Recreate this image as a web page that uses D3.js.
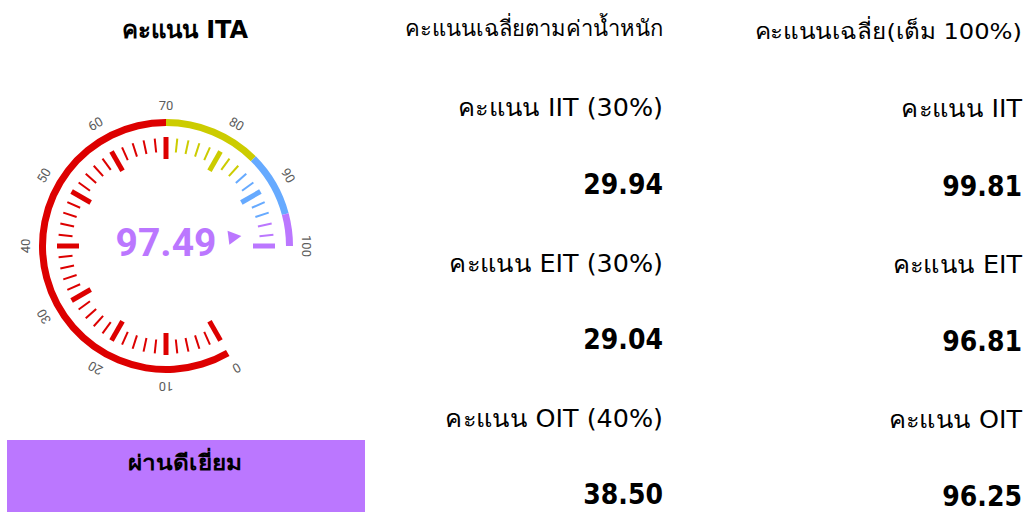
<!DOCTYPE html>
<html>
<head>
<meta charset="utf-8">
<script src="https://cdn.jsdelivr.net/npm/d3@7"></script>
<style>
  body { margin: 0; background: #fff; }
  svg { display: block; font-family: "DejaVu Sans", sans-serif; }
  .gauge-text { font-family: Roboto, "Liberation Sans", Arial, sans-serif; }
  .row-value { font-family: "DejaVu Sans Condensed", "Liberation Sans", sans-serif; }
</style>
</head>
<body>
<div id="chart"></div>
<script>
// gauge data
const gaugeTitle = 'คะแนน ITA';
const gaugeValue = 97.49;
const gaugeStatus = 'ผ่านดีเยี่ยม';
const bandStops = [0, 70, 85, 95, 100];
const bandColors = ['#dd0000', '#cccc00', '#66aaff', '#bb77ff'];
const majorTicks = [0, 10, 20, 30, 40, 50, 60, 70, 80, 90, 100];
const minorTicks = [2, 4, 6, 8, 12, 14, 16, 18, 22, 24, 26, 28, 32, 34, 36, 38, 42, 44, 46, 48,
  52, 54, 56, 58, 62, 64, 66, 68, 72, 74, 76, 78, 82, 84, 86, 88, 92, 94, 96, 98];

// score tables
const weightedHeader = 'คะแนนเฉลี่ยตามค่าน้ำหนัก';
const weightedLabels = ['คะแนน IIT (30%)', 'คะแนน EIT (30%)', 'คะแนน OIT (40%)'];
const weightedValues = [29.94, 29.04, 38.50];
const fullHeader = 'คะแนนเฉลี่ย(เต็ม 100%)';
const fullLabels = ['คะแนน IIT', 'คะแนน EIT', 'คะแนน OIT'];
const fullValues = [99.81, 96.81, 96.25];

const width = 1027, height = 512;
const svg = d3.select('#chart').append('svg')
  .attr('width', width)
  .attr('height', height);

const fmt = d3.format('.2f');

// value -> angle (radians, clockwise from 12 o'clock)
const angle = d3.scaleLinear().domain([0, 100]).range([-210 * Math.PI / 180, 90 * Math.PI / 180]);
const bandColor = d3.scaleThreshold().domain(bandStops.slice(1, -1).map(d => d + 1e-6)).range(bandColors);

const cx = 166, cy = 246;

svg.append('text')
  .attr('x', 185).attr('y', 38)
  .attr('text-anchor', 'middle')
  .attr('font-size', 24).attr('font-weight', 'bold')
  .text(gaugeTitle);

const g = svg.append('g').attr('transform', `translate(${cx},${cy})`);

const arc = d3.arc().innerRadius(120).outerRadius(127);
g.selectAll('.band')
  .data(bandColors)
  .enter().append('path')
  .attr('class', 'band')
  .attr('fill', d => d)
  .attr('d', (d, i) => arc({ startAngle: angle(bandStops[i]), endAngle: angle(bandStops[i + 1]) }));

function tickLine(sel, r0, r1, w) {
  sel.attr('x1', d => r0 * Math.sin(angle(d)))
    .attr('y1', d => -r0 * Math.cos(angle(d)))
    .attr('x2', d => r1 * Math.sin(angle(d)))
    .attr('y2', d => -r1 * Math.cos(angle(d)))
    .attr('stroke', d => bandColor(d))
    .attr('stroke-width', w);
}

g.selectAll('.minor')
  .data(minorTicks)
  .enter().append('line')
  .attr('class', 'minor')
  .call(tickLine, 94, 108, 2);

g.selectAll('.major')
  .data(majorTicks)
  .enter().append('line')
  .attr('class', 'major')
  .call(tickLine, 87, 109, 5);

g.selectAll('.tick-label')
  .data(majorTicks)
  .enter().append('text')
  .attr('class', 'tick-label gauge-text')
  .attr('transform', d => {
    const a = angle(d);
    return `translate(${141 * Math.sin(a)},${-141 * Math.cos(a)}) rotate(${a * 180 / Math.PI})`;
  })
  .attr('text-anchor', 'middle')
  .attr('dy', '0.35em')
  .attr('font-size', 13)
  .attr('fill', '#5c5c5c')
  .text(d => d);

// pointer
const pa = angle(gaugeValue);
const pointer = d3.path();
pointer.moveTo(63 * Math.sin(pa) - 7 * Math.cos(pa), -63 * Math.cos(pa) - 7 * Math.sin(pa));
pointer.lineTo(76 * Math.sin(pa), -76 * Math.cos(pa));
pointer.lineTo(63 * Math.sin(pa) + 7 * Math.cos(pa), -63 * Math.cos(pa) + 7 * Math.sin(pa));
pointer.closePath();
g.append('path')
  .attr('d', pointer.toString())
  .attr('fill', bandColor(gaugeValue));

g.append('text')
  .attr('class', 'gauge-text')
  .attr('x', 0).attr('y', 10)
  .attr('text-anchor', 'middle')
  .attr('font-size', 39).attr('font-weight', 'bold')
  .attr('fill', bandColor(gaugeValue))
  .text(fmt(gaugeValue));

// status box
svg.append('rect')
  .attr('x', 7).attr('y', 440)
  .attr('width', 358).attr('height', 80)
  .attr('fill', bandColor(gaugeValue));
svg.append('text')
  .attr('transform', 'translate(185,470) scale(1.16,1)')
  .attr('text-anchor', 'middle')
  .attr('font-size', 21).attr('font-weight', 'bold')
  .text(gaugeStatus);

// score columns (the source text is drawn a little wide)
function scoreColumn(x, header, headerY, headerScale, labels, values, labelY, valueY) {
  const col = svg.append('g');
  col.append('text')
    .attr('transform', `translate(${x},${headerY}) scale(${headerScale},1)`)
    .attr('text-anchor', 'end')
    .attr('font-size', 22)
    .text(header);
  const rowLabel = d3.scaleLinear().domain([0, labels.length - 1]).range(labelY);
  const rowValue = d3.scaleLinear().domain([0, values.length - 1]).range(valueY);
  col.selectAll('.row-label')
    .data(labels)
    .enter().append('text')
    .attr('class', 'row-label')
    .attr('transform', (d, i) => `translate(${x},${rowLabel(i)}) scale(1.06,1)`)
    .attr('text-anchor', 'end')
    .attr('font-size', 24)
    .text(d => d);
  col.selectAll('.row-value')
    .data(values)
    .enter().append('text')
    .attr('class', 'row-value')
    .attr('x', x).attr('y', (d, i) => rowValue(i))
    .attr('text-anchor', 'end')
    .attr('font-size', 28).attr('font-weight', 'bold')
    .text(d => fmt(d));
}

scoreColumn(663, weightedHeader, 36, 1, weightedLabels, weightedValues, [116, 427], [194, 504]);
scoreColumn(1022, fullHeader, 39, 1.1, fullLabels, fullValues, [117, 428], [196, 506]);
</script>
</body>
</html>
